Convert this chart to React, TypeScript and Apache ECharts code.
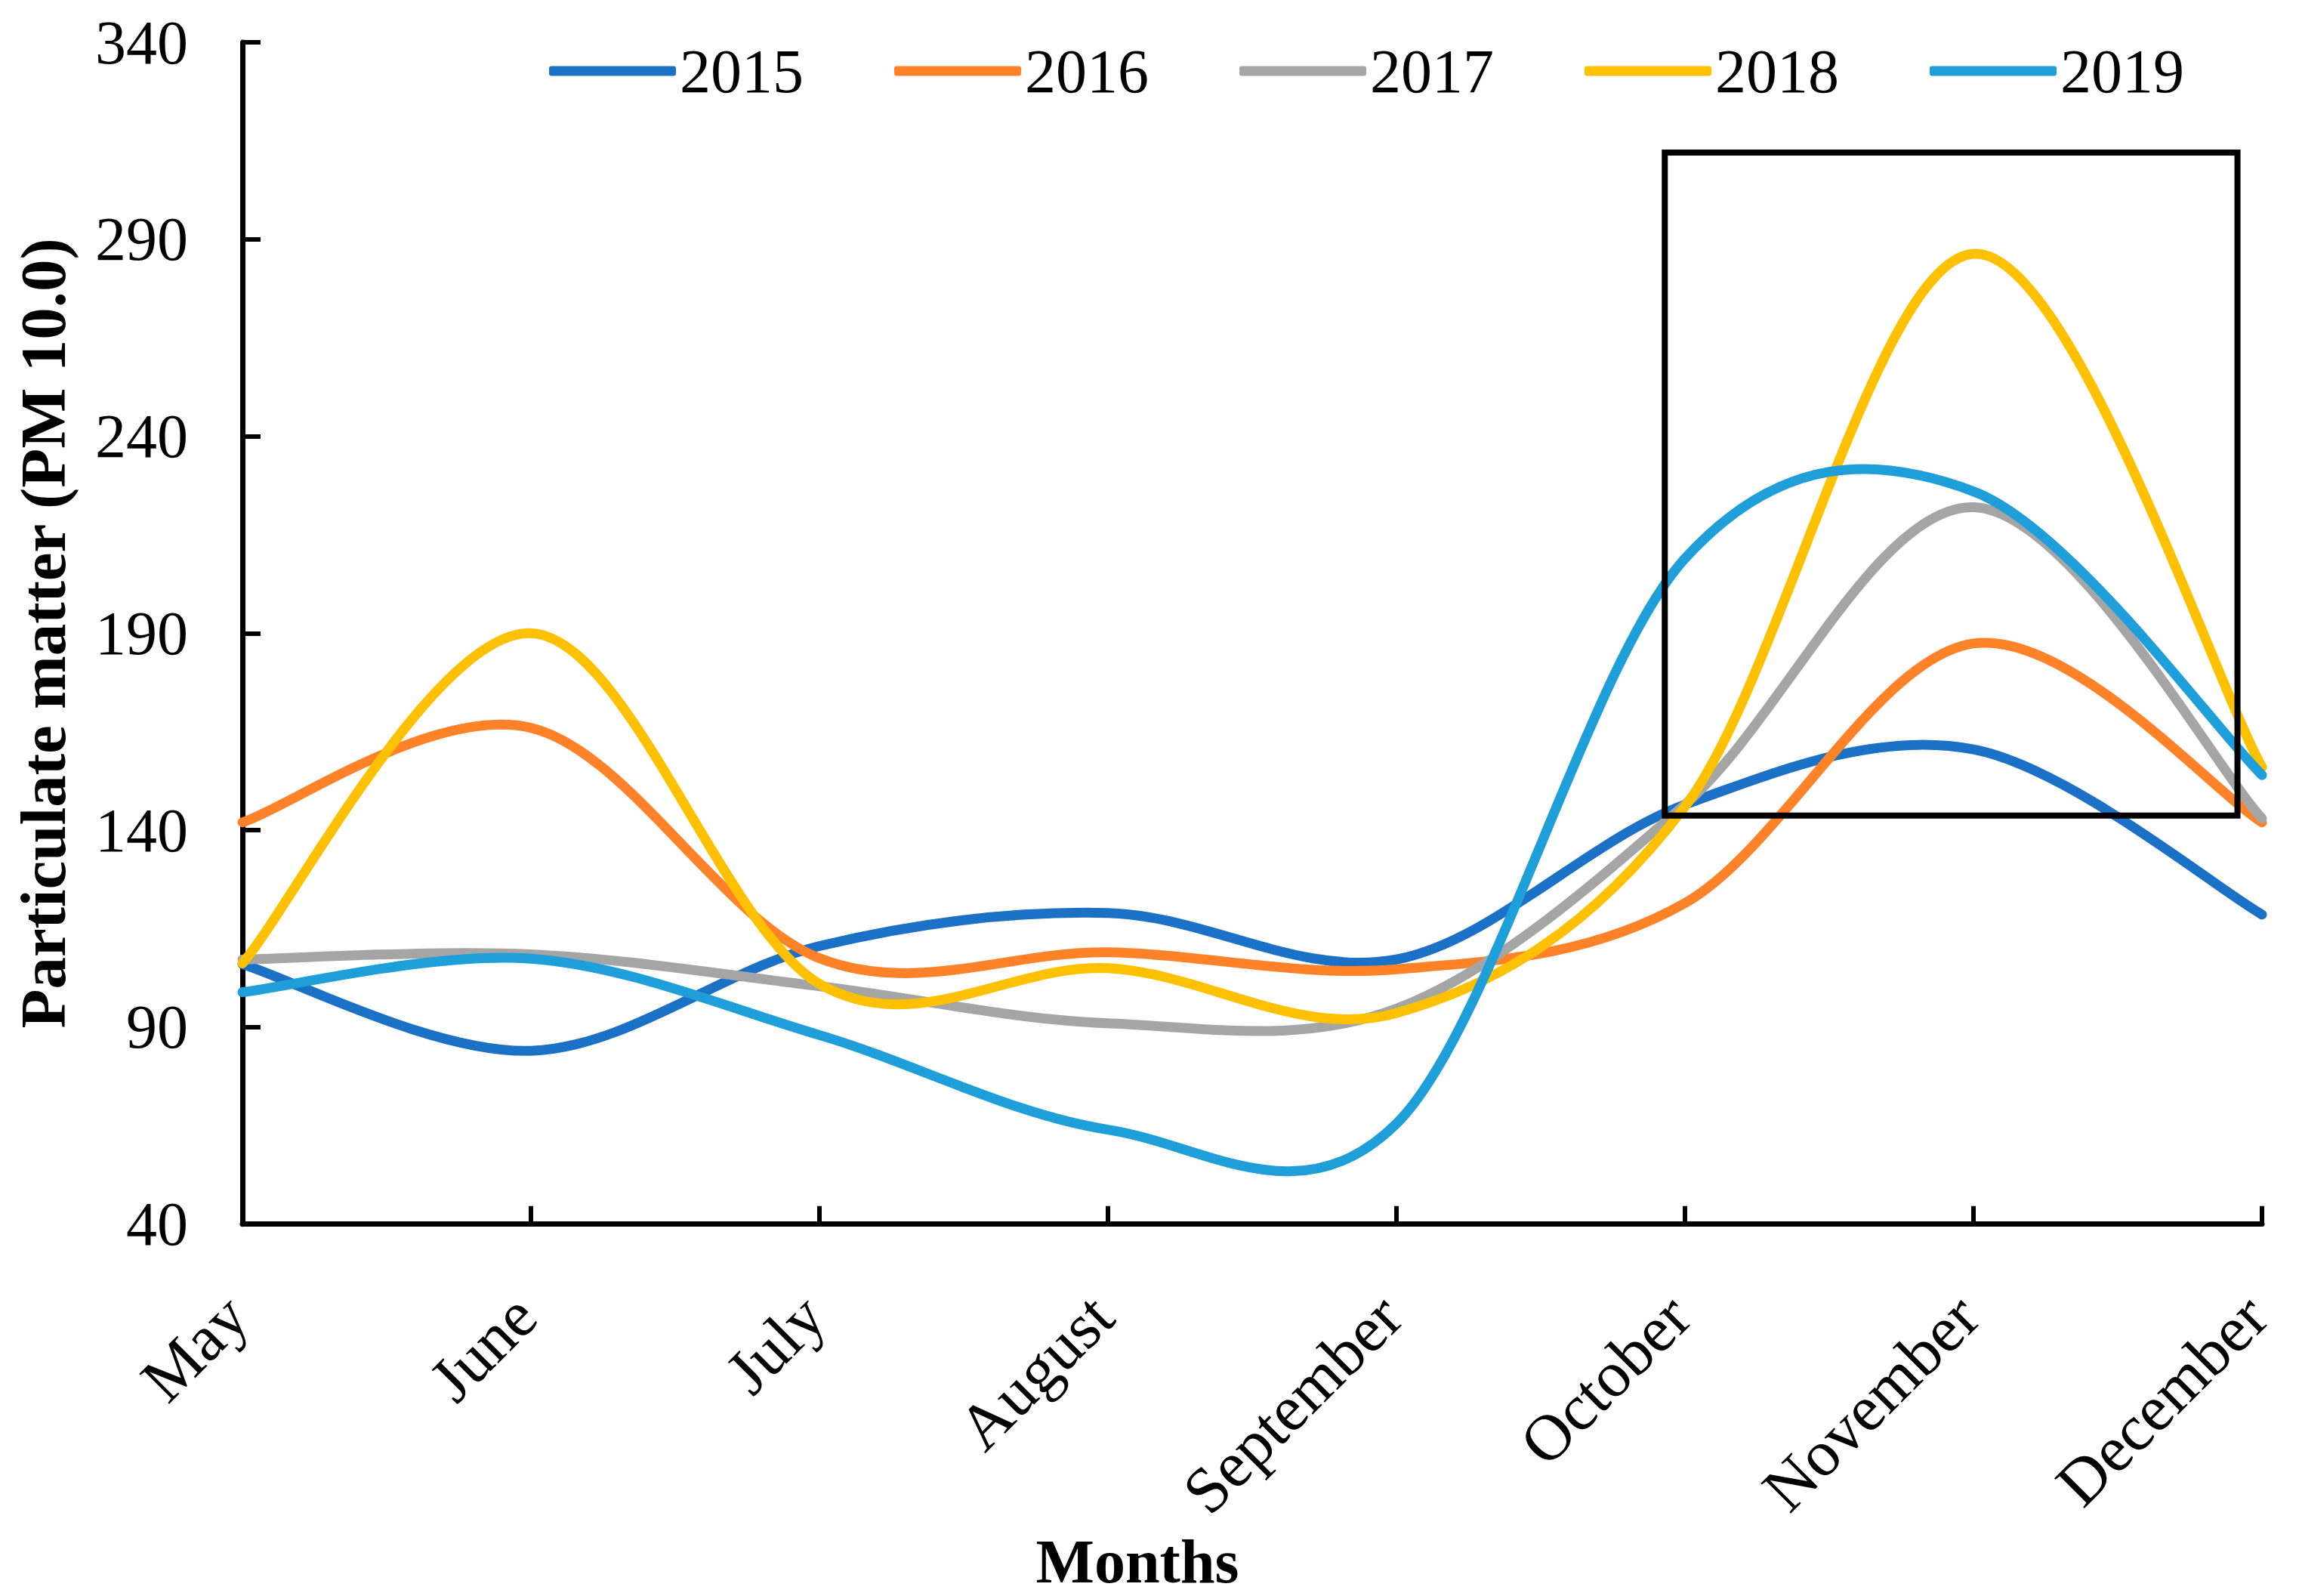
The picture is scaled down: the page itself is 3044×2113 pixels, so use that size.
import React, { useEffect, useRef } from "react";
import * as echarts from "echarts";

const months = ["May", "June", "July", "August", "September", "October", "November", "December"];
const years = ["2015", "2016", "2017", "2018", "2019"];
const pm2015 = [106, 84, 110.6, 119, 107.2, 146.5, 160.5, 118.6];
const pm2016 = [142, 166, 107.5, 109, 104.7, 121.5, 187.4, 142];
const pm2017 = [107.2, 108.5, 100.4, 91, 94.7, 146.5, 222, 143];
const pm2018 = [106.2, 190, 101, 105, 93.6, 146, 286.3, 156];
const pm2019 = [98.9, 107.4, 88, 64, 65.5, 209, 226, 154];
const seriesValues = [pm2015, pm2016, pm2017, pm2018, pm2019];
const seriesColors = ["#1B71C6", "#FF8228", "#A5A5A5", "#FFC000", "#1E9FD9"];
const yMin = 40;
const yMax = 340;
const yInterval = 50;
// highlighted region (category index range, value range)
const boxIndexFrom = 4.93;
const boxIndexTo = 6.915;
const boxValueFrom = 143.7;
const boxValueTo = 312;

const FONT = "'Liberation Serif', 'Times New Roman', serif";

// Smooth curve through the projected points (Catmull-Rom style Bezier, like spreadsheet "smoothed line")
function smoothPath(pts: number[][]): string {
  const n = pts.length;
  if (n === 0) return "";
  let d = `M ${pts[0][0]} ${pts[0][1]}`;
  for (let i = 0; i < n - 1; i++) {
    const p0 = pts[Math.max(0, i - 1)];
    const p1 = pts[i];
    const p2 = pts[i + 1];
    const p3 = pts[Math.min(n - 1, i + 2)];
    const c1x = p1[0] + (p2[0] - p0[0]) / 6;
    const c1y = p1[1] + (p2[1] - p0[1]) / 6;
    const c2x = p2[0] - (p3[0] - p1[0]) / 6;
    const c2y = p2[1] - (p3[1] - p1[1]) / 6;
    d += ` C ${c1x} ${c1y} ${c2x} ${c2y} ${p2[0]} ${p2[1]}`;
  }
  return d;
}

export default function App() {
  const ref = useRef<HTMLDivElement>(null);
  useEffect(() => {
    if (!ref.current) return;
    const chart = echarts.init(ref.current, undefined, { renderer: "svg" });
    const axisColor = "#000";
    chart.setOption({
      animation: false,
      backgroundColor: "#ffffff",
      grid: { left: 321, right: 49, top: 56, bottom: 478, containLabel: false },
      legend: {
        data: years,
        left: 722,
        top: 48,
        itemWidth: 168,
        itemHeight: 13,
        itemGap: 120,
        icon: "roundRect",
        textStyle: { fontFamily: FONT, fontSize: 82, color: "#000" },
      },
      xAxis: {
        type: "category",
        data: months,
        boundaryGap: false,
        axisLine: { lineStyle: { color: axisColor, width: 7 } },
        axisTick: { inside: true, length: 24, interval: 0, lineStyle: { color: axisColor, width: 6 } },
        axisLabel: {
          rotate: 45,
          margin: 100,
          interval: 0,
          fontFamily: FONT,
          fontSize: 86,
          color: "#000",
          padding: [0, 11, 22, 0],
        },
        splitLine: { show: false },
        name: "Months",
        nameLocation: "middle",
        nameGap: 386,
        nameTextStyle: { fontFamily: FONT, fontWeight: "bold", fontSize: 82, color: "#000", padding: [0, 304, 0, 0] },
      },
      yAxis: {
        type: "value",
        min: yMin,
        max: yMax,
        interval: yInterval,
        axisLine: { show: true, lineStyle: { color: axisColor, width: 7 } },
        axisTick: { show: true, inside: true, length: 24, lineStyle: { color: axisColor, width: 6 } },
        axisLabel: { margin: 72, fontFamily: FONT, fontSize: 82, color: "#000" },
        splitLine: { show: false },
        name: "Particulate matter (PM 10.0)",
        nameLocation: "middle",
        nameRotate: 90,
        nameGap: 222,
        nameTextStyle: { fontFamily: FONT, fontWeight: "bold", fontSize: 85, color: "#000" },
      },
      series: years.map((y, si) => ({
        type: "custom",
        name: y,
        data: seriesValues[si].map((v, i) => [i, v]),
        encode: { x: 0, y: 1 },
        itemStyle: { color: seriesColors[si] },
        renderItem: (params: any, api: any) => {
          if (params.dataIndex !== 0) return null;
          const pts = seriesValues[si].map((v, i) => api.coord([i, v]));
          return {
            type: "path",
            shape: { pathData: smoothPath(pts) },
            style: {
              fill: "none",
              stroke: seriesColors[si],
              lineWidth: 13,
              lineCap: "round",
              lineJoin: "round",
            },
          };
        },
      })),
    });
    const x0 = chart.convertToPixel({ xAxisIndex: 0 }, 0) as number;
    const x7 = chart.convertToPixel({ xAxisIndex: 0 }, months.length - 1) as number;
    const step = (x7 - x0) / (months.length - 1);
    const left = x0 + boxIndexFrom * step;
    const right = x0 + boxIndexTo * step;
    const top = chart.convertToPixel({ yAxisIndex: 0 }, boxValueTo) as number;
    const bottom = chart.convertToPixel({ yAxisIndex: 0 }, boxValueFrom) as number;
    chart.setOption({
      graphic: [
        {
          type: "rect",
          shape: { x: left, y: top, width: right - left, height: bottom - top },
          style: { fill: "none", stroke: "#000", lineWidth: 8 },
          z: 100,
        },
      ],
    });
    return () => chart.dispose();
  }, []);
  return <div ref={ref} style={{ position: "absolute", left: 0, top: 0, width: 3044, height: 2113 }} />;
}
